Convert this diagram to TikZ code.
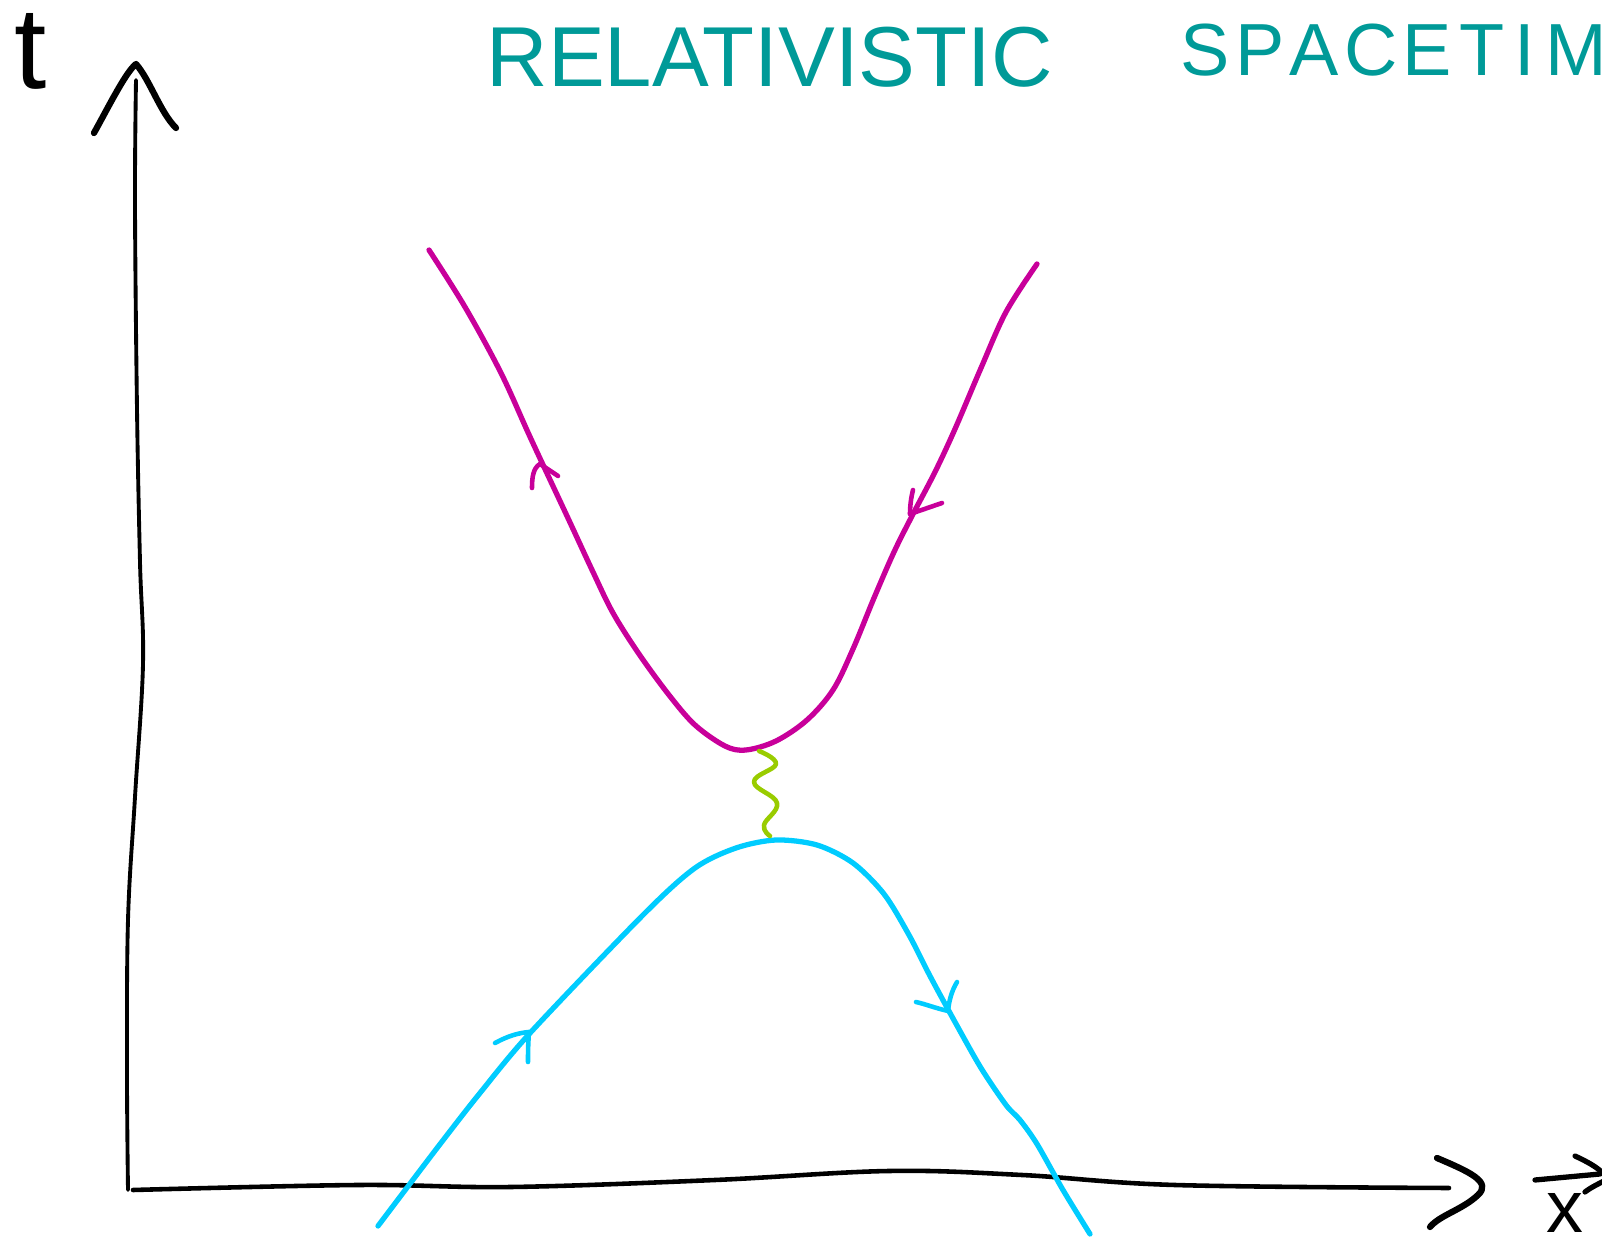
\documentclass[tikz,border=0pt]{standalone}
\usepackage{fontspec}
\setmainfont{Liberation Sans}
\definecolor{teal1}{RGB}{0,154,152}
\definecolor{mag}{RGB}{200,0,154}
\definecolor{cyn}{RGB}{0,204,255}
\definecolor{lime}{RGB}{153,204,0}
\tikzset{
  axis/.style={line width=1.3pt, black, line cap=round, line join=round},
  tip/.style={line width=1.8pt, black, line cap=round, line join=round},
  wline/.style={line width=1.5pt, line cap=round, line join=round},
  barb/.style={line width=1.3pt, line cap=round},
  title/.style={text=teal1, inner sep=0pt, font=\fontsize{24.2}{26}\selectfont},
  lbl/.style={inner sep=0pt, text=black}
}
\begin{document}
\begin{tikzpicture}[x=0.01cm, y=-0.01cm]
\useasboundingbox (0,0) rectangle (1602,1246);
\begin{scope}
\clip (0,0) rectangle (1602,1246);
% title
\node[title, anchor=base west] (title1) at (486,87) {RELATIVISTIC};
\node[title, anchor=base west, font=\fontsize{21}{23}\selectfont] (title2) at (1180,76)
  {S\kern1.5pt P\kern1.5pt A\kern1.5pt C\kern1.5pt E\kern2pt T\kern3pt I\kern3pt M};
% labels
\node[lbl, anchor=base west, font=\fontsize{33}{35}\selectfont] (tlab) at (14,89) {t};
\node[lbl, anchor=base west, font=\fontsize{21}{23}\selectfont] (xlab) at (1546,1232) {x};
\coordinate (va) at (1535,1180);
\coordinate (vb) at (1600,1174);
\draw[tip, line width=1.5pt] (va) -- (vb);
\draw[tip, line width=1.5pt] (1575,1156) .. controls (1592,1164) and (1602,1170) .. (1606,1178);
\draw[tip, line width=1.5pt] (1606,1180) .. controls (1598,1184) and (1590,1188) .. (1585,1192);
% vertical axis
\coordinate (o) at (128,1190);
\coordinate (ttop) at (136,80);
\draw[axis, line width=1.1pt] plot[smooth, tension=0.6] coordinates {
  (o) (127,1073) (128,920) (135,797) (143,664) (140,562) (137,409) (135,204) (ttop)};
\draw[tip] (94,133) .. controls (110,104) and (126,72) .. (136,64) .. controls (150,80) and (160,112) .. (176,128);
% horizontal axis
\coordinate (xend) at (1449,1188);
\draw[axis] plot[smooth, tension=0.6] coordinates {
  (133,1190) (358,1185) (511,1187) (715,1180) (889,1171) (1022,1175) (1175,1185) (xend)};
\draw[tip] (1437,1158) .. controls (1470,1172) and (1492,1182) .. (1478,1195) .. controls (1462,1210) and (1440,1215) .. (1430,1227);
% magenta worldline
\draw[wline, mag] plot[smooth, tension=0.55] coordinates {
  (429,250) (465,307) (501,373) (531,439) (567,516) (593,572) (613,613) (639,654)
  (669,695) (695,725) (725,746) (746,750) (776,741) (807,720) (833,690) (853,649)
  (874,598) (894,552) (912,516) (935,472) (955,429) (981,368) (1006,312) (1037,264)};
\coordinate (m1) at (540,464);
\draw[barb, mag] (532,488) .. controls (532,478) and (533,468) .. (m1);
\draw[barb, mag] (m1) -- (558,476);
\coordinate (m2) at (910,514);
\draw[barb, mag] (913,490) .. controls (911,498) and (910,506) .. (m2);
\draw[barb, mag] (m2) -- (942,503);
% cyan worldline
\draw[wline, cyn] plot[smooth, tension=0.5] coordinates {
  (378,1226) (409,1185) (444,1139) (480,1093) (531,1032) (644,914)
  (695,868) (736,848) (776,840) (817,845) (853,863) (884,894) (909,935) (930,976)
  (955,1022) (981,1068) (1006,1105) (1020,1120) (1037,1144) (1063,1190) (1090,1234)};
\coordinate (c1) at (529,1032);
\draw[barb, cyn] (495,1043) .. controls (508,1036) and (518,1033) .. (c1);
\draw[barb, cyn] (c1) .. controls (528,1045) and (528,1055) .. (528,1062);
\coordinate (c2) at (948,1011);
\draw[barb, cyn] (957,982) .. controls (951,992) and (949,1002) .. (c2);
\draw[barb, cyn] (c2) .. controls (935,1008) and (925,1004) .. (916,1002);
% photon
\draw[wline, lime, line width=1.3pt] plot[smooth, tension=0.7] coordinates {
  (759,751) (776,764) (754,782) (777,803) (764,825) (770,836)};
\end{scope}
\end{tikzpicture}
\end{document}
